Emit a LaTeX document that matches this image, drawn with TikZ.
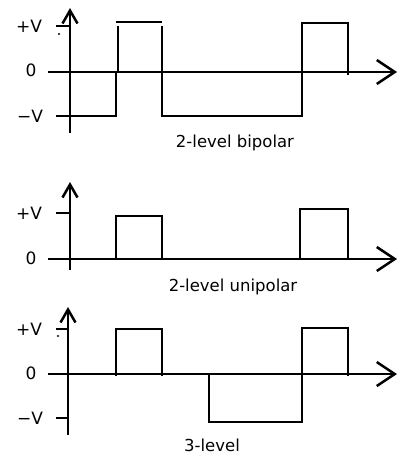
\documentclass[tikz,border=0pt]{standalone}
\usepackage{fontspec}
\setmainfont{DejaVu Sans}
\usetikzlibrary{arrows.meta}
\begin{document}
\begin{tikzpicture}[x=1pt,y=-1pt,
  ax/.style={line width=2.7pt},
  wave/.style={line width=2.8pt,line join=miter},
  xarr/.style={-{Straight Barb[length=18pt,width=24pt,line width=2.5pt]}},
  yarr/.style={-{Straight Barb[length=13pt,width=15pt,line width=2.5pt]}},
  lab/.style={font=\fontsize{17}{19}\selectfont,inner sep=0pt},
  captext/.style={font=\fontsize{16.5}{18}\selectfont,inner sep=0pt}]
\useasboundingbox (0,0) rectangle (401,460);
% ---------- panel 1: 2-level bipolar
\draw[ax,yarr] (70,133) -- (70,8);
\draw[ax,xarr] (48,72) -- (397,72);
\draw[ax] (56,26) -- (70,26);
\draw[ax] (56,116) -- (70,116);
\fill (59,34) circle (1.1);
\node[lab] (p1) at (29,26) {+V};
\node[lab] (z1) at (31,70) {0};
\node[lab] (m1) at (30,116) {−V};
\draw[wave] (70,116) -- (116,116) -- (116,73);
\draw[wave] (118,73) -- (118,26);
\draw[wave] (116,22) -- (162,22);
\draw[wave] (162,26) -- (162,116) -- (302,116) -- (302,23) -- (348,23) -- (348,75);
\node[captext] (c1) at (235,143) {2-level bipolar};
% ---------- panel 2: 2-level unipolar
\draw[ax,yarr] (70,270) -- (70,182);
\draw[ax,xarr] (48,259) -- (397,259);
\draw[ax] (56,213) -- (70,213);
\node[lab] (p2) at (29,213) {+V};
\node[lab] (z2) at (31,258) {0};
\draw[wave] (116,260) -- (116,216) -- (162,216) -- (162,260);
\draw[wave] (300,259) -- (300,209) -- (348,209) -- (348,260);
\node[captext] (c2) at (233,287) {2-level unipolar};
% ---------- panel 3: 3-level
\draw[ax,yarr] (68,435) -- (68,307);
\draw[ax,xarr] (48,374) -- (397,374);
\draw[ax] (56,329) -- (68,329);
\draw[ax] (56,418) -- (68,418);
\fill (58,336) circle (1.1);
\node[lab] (p3) at (29,329) {+V};
\node[lab] (z3) at (31,373) {0};
\node[lab] (m3) at (30,418) {−V};
\draw[wave] (116,376) -- (116,329) -- (162,329) -- (162,376);
\draw[wave] (209,374) -- (209,422) -- (302,422) -- (302,328) -- (348,328) -- (348,376);
\node[captext] (c3) at (212,445) {3-level};
\end{tikzpicture}
\end{document}
